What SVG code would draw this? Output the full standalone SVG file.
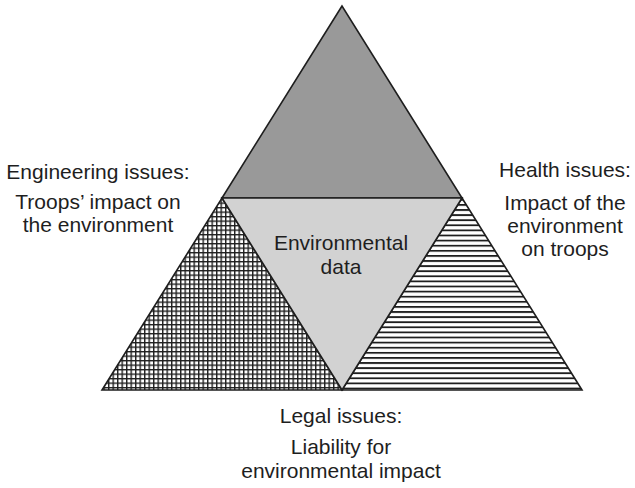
<svg xmlns="http://www.w3.org/2000/svg" width="635" height="488" viewBox="0 0 635 488">
<style>
text{font-family:"Liberation Sans",Arial,sans-serif;font-size:21px;fill:#1e1e1e;text-anchor:middle}
.edge{stroke:#1e1e1e;stroke-width:1.6;stroke-linejoin:miter;fill:none}
</style>
<defs>
<pattern id="grid" patternUnits="userSpaceOnUse" width="4.5" height="4.5">
<rect width="4.5" height="4.5" fill="#fff"/>
<path d="M0 0.6H4.5M0.6 0V4.5" stroke="#1e1e1e" stroke-width="1.6"/>
</pattern>
<pattern id="hlines" patternUnits="userSpaceOnUse" width="10" height="5.1">
<rect width="10" height="5.1" fill="#fff"/>
<path d="M0 0.9H10" stroke="#1e1e1e" stroke-width="1.8"/>
</pattern>
</defs>
<g id="top">
<polygon points="342,6 222,198 462,198" class="edge" style="fill:#999"/>
</g>
<g id="left">
<polygon points="222,198 342,390 102,390" style="fill:url(#grid)" class="edge"/>
</g>
<g id="right">
<polygon points="462,198 582,390 342,390" style="fill:url(#hlines)" class="edge"/>
</g>
<g id="center">
<polygon points="222,198 462,198 342,390" style="fill:#d2d2d2" class="edge"/>
<text x="341" y="250">Environmental</text>
<text x="341" y="274">data</text>
</g>
<g id="engineering">
<text x="98" y="179">Engineering issues:</text>
<text x="98" y="209">Troops’ impact on</text>
<text x="98" y="232">the environment</text>
</g>
<g id="health">
<text x="565" y="177">Health issues:</text>
<text x="565" y="210">Impact of the</text>
<text x="565" y="233">environment</text>
<text x="565" y="256">on troops</text>
</g>
<g id="legal">
<text x="341" y="423">Legal issues:</text>
<text x="341" y="454">Liability for</text>
<text x="341" y="478">environmental impact</text>
</g>
<g id="connectors"></g>
</svg>
